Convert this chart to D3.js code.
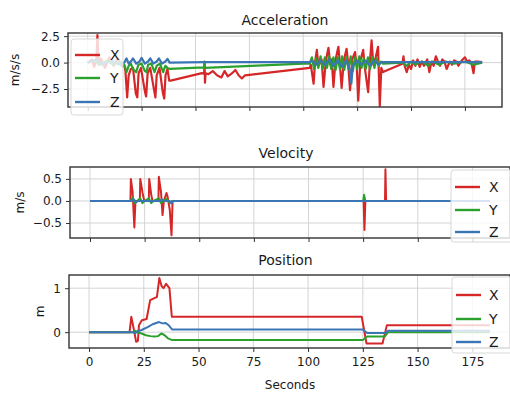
<!DOCTYPE html>
<html>
<head>
<meta charset="utf-8">
<script src="https://cdn.jsdelivr.net/npm/d3@7"></script>
<style>
  body { margin: 0; background: #fff; }
  svg text { font-family: "DejaVu Sans", sans-serif; fill: #1a1a1a; }
</style>
</head>
<body>
<svg id="chart" width="510" height="394"></svg>
<script>
// time axis (seconds) shared by all three panels
const xDomain = [-9.15, 192.2];
const xTicks = [0, 25, 50, 75, 100, 125, 150, 175];
const seriesNames = ["X", "Y", "Z"];
const colors = ["#d62728", "#2ca02c", "#3a76b5"];

// acceleration, [seconds, m/s/s]
const accX = [[0,0],[2,0.3],[3,-0.4],[4,0.2],[4.5,2.6],[5,-0.2],[6,0.4],[8,-0.5],[10,0.5],[12,-0.3],[14,0.4],[16,-0.4],[17,-0.3],
  [17.5,-0.8],[18.3,-3.3],[19,-1.2],[20,-0.6],[21,-0.5],[22.3,-2.9],[23,-3.3],[23.6,-1],[24.7,-0.5],[26.5,-2.7],[27.1,-3.2],[27.8,-1.0],
  [29,-0.5],[30.8,-2.6],[31.4,-3.3],[32,-1.2],[33.3,-0.5],[34.8,-2.8],[35.5,-3.4],[36.1,-1.2],[37,-0.6],[37.8,-1.7],
  [38.5,-1.7],[53,-1.0],[54,-1.05],[54.2,-0.1],[54.4,-1.9],[54.7,-1.0],[56,-1.1],[58,-0.8],[60,-1.2],[62,-1.4],[63.5,-0.8],[65,-1.3],
  [67,-1.0],[68.5,-0.7],[70,-1.2],[71.5,-1.5],[73,-1.2],[103,-0.5],
  [103.5,-0.2],[104.8,-2.0],[105.5,0.1],[106.3,1.2],[107,-0.3],[108.5,0.3],[109.4,-2.3],[110.5,0.2],[111.7,1.4],[112.5,-0.2],[113.2,0.3],
  [114,-2.3],[115,0.3],[116.3,1.5],[117,-0.2],[117.8,-2.4],[118.8,0.2],[120.1,1.3],[120.8,0],[121.7,-2.6],[122.7,0.3],[124,1.0],[124.8,-0.3],
  [125.5,-3.6],[126.5,0.2],[127.8,1.2],[128.5,-0.4],[130.1,-2.8],[131,0.3],[131.7,2.1],[132.5,-0.2],[133.5,0.4],[134.7,1.5],[135.5,-4.1],[136.2,-0.5],
  [137,-0.9],[146,-0.1],[146.5,0.6],[147,-0.3],[148,-0.9],[149,-0.2],[150,-0.6],[151,0.2],[152,-0.3],[153,0.3],[154,-0.4],[155,0.1],[156,-0.3],
  [157.5,0.3],[158.5,-0.9],[159.5,0.1],[160.5,-0.3],[161.5,0.6],[162.5,0.1],[163.5,-0.3],[164.5,0.3],[165.5,0.1],[166.5,-0.6],[168,0.1],
  [169,-0.2],[170,0.2],[171,0.1],[172,-0.3],[173.5,0.2],[175,0.5],[176,0.1],[177,0.2],[178,0],[179,-1.0],[179.6,0.1],[181,0.1],[183,0.05]];
const accY = [[0,0],[3,0.2],[6,-0.2],[9,0.2],[12,-0.2],[15,0.1],[17,-0.2],
  [18,-0.9],[19,-0.3],[20,-0.1],[21,-0.6],[22.5,-0.9],[23.5,-0.2],[25,-0.1],[26.5,-0.8],[27.3,-0.9],[28,-0.2],[29.5,-0.1],[31,-0.9],
  [32,-0.3],[33.5,-0.1],[35,-0.9],[36,-0.3],[37,-0.5],[38,-0.6],
  [54,-0.45],[54.2,0.1],[54.4,-0.5],[100,-0.1],[103,-0.1],
  [104,0.5],[105,-0.6],[106,0.4],[107,-0.5],[108,0.6],[109,-0.6],[110,0.5],[111,-0.5],[112,0.6],[113,-0.6],[114,0.5],[115,-0.7],
  [116,0.5],[117,-0.6],[118,0.6],[119,-0.7],[120,0.5],[121,-0.6],[122,0.6],[123,-0.8],[124,0.5],[125,-0.6],[126,0.6],[127,-0.5],
  [128,0.4],[129,-0.6],[130,0.5],[131,-0.6],[132,0.5],[133,-0.5],[134,0.4],[135,-0.3],[136,0.1],[137,-0.1],
  [146,0],[148,-0.3],[150,0.1],[152,-0.2],[155,0.1],[158,-0.3],[160,0.1],[163,-0.2],[166,0.1],[170,-0.1],[175,0.1],[179,-0.2],[183,0]];
const accZ = [[0,0],[4,0.3],[7,-0.2],[11,0.2],[15,-0.2],[17,0],
  [18,0.4],[19,-0.1],[20,0.1],[21,0.4],[22.5,-0.1],[24,0.1],[25,0.45],[26.5,-0.1],[28,0.1],[29,0.4],[30.5,-0.1],[32,0.1],[33,0.4],
  [34.5,-0.1],[36,0.1],[37,0.35],[38,0],[54,0.05],[103,0.05],
  [104,0.2],[106,-0.2],[108,0.2],[110,-0.2],[112,0.3],[114,-0.3],[116,0.2],[118,-0.4],[120,0.2],[121.5,-0.6],[122.3,-2.0],[123,-0.3],
  [125,0.2],[127,-0.2],[129,0.2],[131,-0.3],[133,0.2],[135,-0.2],[136,0.05],[183,0.05]];

// velocity, [seconds, m/s]
const velX = [[0,0],[18.5,0],[18.7,0.5],[19.5,0.2],[20.3,-0.6],[20.8,0],[22.8,0],[23,0.5],[24,0.2],[24.8,0],[26.9,0],[27.1,0.5],
  [28,0.15],[28.6,0],[31.3,0],[31.5,0.55],[32.5,0.2],[33.2,-0.32],[33.8,0],[35,0.18],[35.5,0.1],[36.5,-0.2],[37.3,-0.78],[37.8,0],
  [125.2,0],[125.6,-0.66],[126,0],[135,0],[135.2,0.72],[135.5,0],[183,0]];
const velY = [[0,0],[18.5,0],[19.5,0.07],[20.5,-0.05],[21.5,0],[23,0.06],[24,-0.05],[25,0],[27,0.06],[28,-0.05],[29,0],[31.5,0.06],
  [32.5,-0.05],[33.5,0],[35,0.05],[36.5,-0.04],[37.5,0],[125,0],[125.4,0.14],[126,0],[183,0]];
const velZ = [[0,0],[19,0],[20,0.04],[21,-0.03],[22,0],[32,0],[33,0.03],[34,0],[36.5,0],[37.2,-0.06],[38,0],[183,0]];

// position, [seconds, m]
const posX = [[0,0],[18.5,0],[19.3,0.35],[20.3,0.1],[21.5,-0.22],[22.3,-0.2],[22.8,0.16],[24.1,0.27],[26.3,0.3],[27.9,0.73],
  [30.1,0.78],[31,0.8],[32.1,1.23],[33.1,1.05],[34,1.0],[35.2,1.1],[36.7,1.0],[37.8,0.35],[124.5,0.35],[126.7,-0.26],
  [134,-0.26],[136,0.16],[183,0.16]];
const posY = [[0,0],[20,0],[21,0.03],[22,0],[24,-0.03],[26,-0.07],[28,-0.09],[30,-0.1],[31.5,-0.09],[33,-0.03],[34.5,-0.07],
  [36,-0.14],[38,-0.18],[125,-0.18],[127,-0.1],[135,-0.1],[136.5,0],[183,0]];
const posZ = [[0,0],[20,0],[21,-0.03],[22,0.02],[24,0.05],[27,0.12],[29,0.18],[32,0.23],[33.5,0.2],[35,0.21],[36.5,0.15],
  [38,0.06],[125,0.06],[127,-0.02],[135,-0.02],[136.5,0.03],[183,0.03]];

const svg = d3.select("svg#chart");

const panels = [
  { title: "Acceleration", titleY: 25, ylabel: "m/s/s", ylabelX: 15, lw: 2.2,
    x0: 68, x1: 502, top: 33, bottom: 107, yDomain: [-4.2, 2.8], yTicks: [-2.5, 0, 2.5], fmt: d3.format(".1f"),
    series: [accX, accY, accZ], xLabels: false,
    legend: { x: 71, y: 39, w: 52, h: 76, rows: [55, 78, 102], lineX: 75, textX: 110 } },
  { title: "Velocity", titleY: 158, ylabel: "m/s", ylabelX: 20, lw: 2,
    x0: 70, x1: 510, top: 167, bottom: 238, yDomain: [-0.84, 0.77], yTicks: [-0.5, 0, 0.5], fmt: d3.format(".1f"),
    series: [velX, velY, velZ], xLabels: false,
    legend: { x: 451, y: 170, w: 62, h: 72, rows: [187, 210, 232], lineX: 455, textX: 489 } },
  { title: "Position", titleY: 265, ylabel: "m", ylabelX: 40, lw: 2,
    x0: 69, x1: 510, top: 275, bottom: 348, yDomain: [-0.36, 1.3], yTicks: [0, 1], fmt: d3.format("d"),
    series: [posX, posY, posZ], xLabels: true,
    legend: { x: 452, y: 277, w: 62, h: 76, rows: [295, 319, 342], lineX: 456, textX: 489 } }
];

panels.forEach((p, i) => {
  const x = d3.scaleLinear().domain(xDomain).range([p.x0, p.x1]);
  const y = d3.scaleLinear().domain(p.yDomain).range([p.bottom, p.top]);
  const g = svg.append("g");
  const minus = (s) => s.replace("-", "\u2212");

  // grid
  g.append("g").selectAll("line").data(xTicks).join("line")
    .attr("x1", (d) => x(d)).attr("x2", (d) => x(d))
    .attr("y1", p.top).attr("y2", p.bottom)
    .attr("stroke", "#d4d4d4").attr("stroke-width", 1);
  g.append("g").selectAll("line").data(p.yTicks).join("line")
    .attr("x1", p.x0).attr("x2", p.x1)
    .attr("y1", (d) => y(d)).attr("y2", (d) => y(d))
    .attr("stroke", "#d4d4d4").attr("stroke-width", 1);

  // data lines, clipped to the axes box
  const clipId = "clip" + i;
  g.append("clipPath").attr("id", clipId).append("rect")
    .attr("x", p.x0).attr("y", p.top).attr("width", p.x1 - p.x0).attr("height", p.bottom - p.top);
  const line = d3.line().x((d) => x(d[0])).y((d) => y(d[1]));
  g.append("g").attr("clip-path", `url(#${clipId})`)
    .selectAll("path").data(p.series).join("path")
    .attr("d", line)
    .attr("fill", "none")
    .attr("stroke", (_, k) => colors[k])
    .attr("stroke-width", p.lw)
    .attr("stroke-linejoin", "round");

  // axes
  const xAxis = d3.axisBottom(x).tickValues(xTicks).tickSize(4).tickPadding(5)
    .tickFormat(p.xLabels ? d3.format("d") : () => "");
  g.append("g").attr("transform", `translate(0,${p.bottom})`).call(xAxis)
    .call((a) => a.select(".domain").remove());
  const yAxis = d3.axisLeft(y).tickValues(p.yTicks).tickSize(4).tickPadding(4)
    .tickFormat((d) => minus(p.fmt(d)));
  g.append("g").attr("transform", `translate(${p.x0},0)`).call(yAxis)
    .call((a) => a.select(".domain").remove());
  g.selectAll(".tick text").attr("font-size", 12).attr("font-family", "DejaVu Sans").attr("fill", "#1a1a1a");
  g.selectAll(".tick line").attr("stroke", "#333");

  // frame
  g.append("rect").attr("x", p.x0).attr("y", p.top)
    .attr("width", p.x1 - p.x0).attr("height", p.bottom - p.top)
    .attr("fill", "none").attr("stroke", "#333").attr("stroke-width", 1.4);

  // title and y label
  g.append("text").attr("x", (p.x0 + Math.min(p.x1, 502)) / 2).attr("y", p.titleY)
    .attr("text-anchor", "middle").attr("font-size", 14).text(p.title);
  g.append("text")
    .attr("transform", `translate(${p.ylabelX},${(p.top + p.bottom) / 2}) rotate(-90)`)
    .attr("text-anchor", "middle").attr("dy", "0.35em").attr("font-size", 12).text(p.ylabel);

  // legend
  const L = p.legend;
  const lg = svg.append("g");
  lg.append("rect").attr("x", L.x).attr("y", L.y).attr("width", L.w).attr("height", L.h)
    .attr("rx", 3).attr("fill", "#fff").attr("fill-opacity", 0.8)
    .attr("stroke", "#d8d8d8").attr("stroke-width", 1);
  const item = lg.selectAll("g.item").data(seriesNames).join("g").attr("class", "item");
  item.append("line")
    .attr("x1", L.lineX).attr("x2", L.lineX + 25)
    .attr("y1", (_, k) => L.rows[k]).attr("y2", (_, k) => L.rows[k])
    .attr("stroke", (_, k) => colors[k]).attr("stroke-width", 2.4);
  item.append("text").attr("x", L.textX).attr("y", (_, k) => L.rows[k])
    .attr("dy", "0.36em").attr("font-size", 14).text((d) => d);
});

// shared x label
svg.append("text").attr("x", 290).attr("y", 389).attr("text-anchor", "middle")
  .attr("font-size", 12).text("Seconds");
</script>
</body>
</html>
